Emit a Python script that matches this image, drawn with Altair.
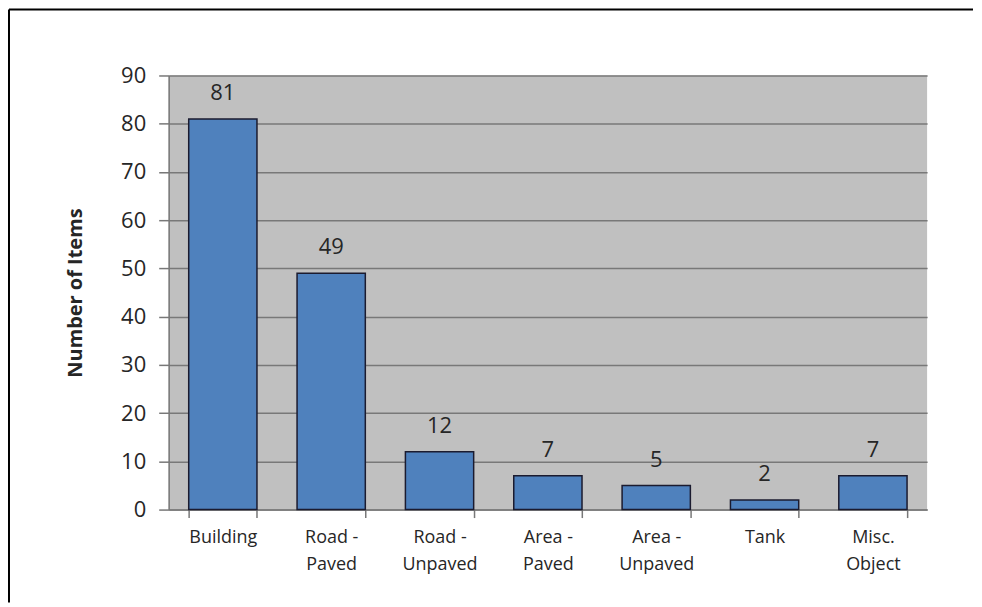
import altair as alt
import pandas as pd

categories = ["Building", "Road -\nPaved", "Road -\nUnpaved", "Area -\nPaved",
              "Area -\nUnpaved", "Tank", "Misc.\nObject"]
counts = [81, 49, 12, 7, 5, 2, 7]
y_ticks = [0, 10, 20, 30, 40, 50, 60, 70, 80, 90]

df = pd.DataFrame({"category": categories, "count": counts})

FONT = "Open Sans"
GRID = "#787878"
TEXT = "#262626"

x_enc = alt.X("category:N", sort=categories, title=None,
              scale=alt.Scale(paddingInner=0.37, paddingOuter=0.185),
              axis=alt.Axis(labelAngle=0, labelExpr="split(datum.label, '\\n')",
                            tickBand="extent", tickSize=8, tickColor=GRID,
                            domainColor=GRID, domainWidth=1.5, tickWidth=1.5,
                            labelPadding=11, labelFontSize=18, labelLineHeight=27,
                            labelFont=FONT, labelColor=TEXT, grid=False))
y_enc = alt.Y("count:Q", title="Number of Items",
              scale=alt.Scale(domain=[0, 90], nice=False),
              axis=alt.Axis(values=y_ticks, tickSize=10, tickColor=GRID, tickWidth=1.5,
                            domainColor=GRID, domainWidth=1.5,
                            grid=True, gridColor=GRID, gridWidth=1.5,
                            labelPadding=13, labelFontSize=22, labelFont=FONT,
                            labelColor=TEXT, titleFont=FONT, titleFontSize=20,
                            titleFontWeight="bold", titleColor=TEXT, titlePadding=35))

base = alt.Chart(df)
bars = base.mark_bar(color="#4f81bd", stroke="#1b1b2f", strokeWidth=1.5).encode(x=x_enc, y=y_enc)
labels = base.mark_text(baseline="bottom", dy=-14, fontSize=22, font=FONT, color=TEXT).encode(
    x=alt.X("category:N", sort=categories), y="count:Q", text="count:Q")

frame = pd.DataFrame({"a": [0]})
top_line = alt.Chart(frame).mark_rule(color="#000000", strokeWidth=2).encode(
    x=alt.value(-160), x2=alt.value(806), y=alt.value(-66))
left_line = alt.Chart(frame).mark_rule(color="#000000", strokeWidth=2).encode(
    x=alt.value(-160), y=alt.value(-66), y2=alt.value(528))

chart = alt.layer(bars, labels, top_line, left_line).properties(
    width=760, height=435, padding=0, background="#ffffff"
).configure_view(fill="#c0c0c0", stroke=None)

chart.save("out.html", embed_options={"renderer": "svg", "actions": False})
